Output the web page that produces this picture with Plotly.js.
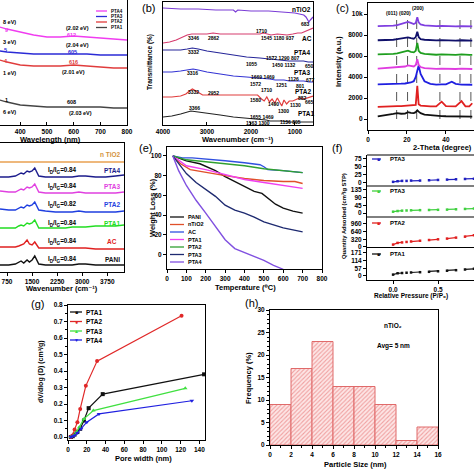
<!DOCTYPE html>
<html><head><meta charset="utf-8">
<script src="https://cdn.plot.ly/plotly-3.0.1.min.js"></script>
<style>html,body{margin:0;padding:0;background:#fff;}#chart{width:474px;height:474px;}</style>
</head><body><div id="chart"></div>
<script>
// ---------- (a) UV-vis ----------
const uvWavelength = [324,350,400,450,500,550,600,650,700,750,800];
const uvPTA4 = [98,96,93,90,88,88,89,88,87,86,85];
const uvPTA3 = [74,73,72,71,71,71,71,71,70,70,70];
const uvPTA2 = [65,63,60,59,59,59,60,59,58,57,57];
const uvPTA1 = [25,23,20,19,18,18,18,18,18,17,17];
const uvNames = ['PTA4','PTA3','PTA2','PTA1'];

// ---------- (b) FTIR ----------
const ftirTiO2Wn = [4000,3600,3200,2800,2400,2350,2300,2000,1600,1200,1000,900,800,750,720,683,650,620,590];
const ftirTiO2 = [117,116,116,115,115,113,115,114,114,113,112,111,110,108,105,103,105,107,108];
const ftirACWn = [4000,3850,3700,3550,3450,3346,3200,3000,2862,2700,2400,2000,1800,1710,1600,1545,1400,1180,1050,937,850,750,650,590];
const ftirAC = [82,83,85,88,90,91,91,91,92,91,91,91,91,92,91,90,91,90,91,92,92,94,96,97];
const ftirPTA4Wn = [4000,3800,3600,3450,3332,3200,3000,2700,2400,2100,1800,1572,1450,1290,1132,1000,807,700,590];
const ftirPTA4 = [75,75,75,76,77,76,74,72,70,68,67,66,65,65,64,64,64,63,63];
const ftirPTA3Wn = [4000,3800,3600,3450,3316,3200,3000,2700,2400,2100,1800,1572,1450,1251,1126,1000,801,677,590];
const ftirPTA3 = [53,53,54,55,56,55,53,51,49,48,47,46,45,45,44,44,44,43,43];
const ftirPTA2Wn = [4000,3800,3600,3480,3400,3332,3250,3100,2952,2700,2400,2100,1850,1760,1700,1640,1580,1520,1460,1400,1340,1300,1250,1190,1130,1050,950,882,800,665,590];
const ftirPTA2 = [28,28,29,31,34,36,34,30,30,30,30,30,30,26,24,28,23,26,22,27,23,19,25,21,24,24,26,27,26,28,29];
const ftirPTA1Wn = [4000,3800,3600,3450,3366,3200,3000,2700,2400,2100,1800,1655,1563,1469,1300,1136,1000,805,700,590];
const ftirPTA1 = [8,9,11,13,14,13,12,10,8,7,6,5,4,4,4,3,3,3,3,3];

// ---------- (c) XRD ----------
const xrdTheta = [5,7,9,11,13,15,17,19,20.5,22,23.5,24.5,25.3,26,27,29,32,35,37.8,40,43,45,48,50,52,53.5];
const xrdPANI = [250,300,330,380,480,560,500,520,650,580,560,650,820,700,550,420,350,300,280,260,250,240,230,230,220,220];
const xrdRed = [1150,1180,1200,1200,1220,1230,1220,1250,1270,1260,1270,1350,3150,1400,1280,1230,1200,1200,1650,1220,1200,1200,1700,1200,1200,1500];
const xrdBlue = [3300,3300,3310,3320,3330,3350,3360,3380,3420,3480,3600,4000,4600,5100,4300,3600,3350,3280,3300,3300,3550,3350,3280,3270,3270,3260];
const xrdMagenta = [4800,4820,4830,4850,4870,4900,4950,5000,5100,5050,5000,5150,5700,5150,4950,4850,4800,4780,4800,4780,4770,4760,4800,4760,4760,4760];
const xrdGreen = [6150,6150,6160,6170,6200,6250,6350,6450,6500,6400,6350,6500,7250,6500,6300,6200,6150,6120,6150,6120,6110,6100,6150,6100,6100,6100];
const xrdNavy = [7500,7500,7510,7520,7550,7600,7650,7700,7780,7700,7650,7800,8300,7800,7600,7550,7500,7480,7520,7480,7470,7460,7500,7460,7460,7460];
const xrdPurple = [8850,8850,8860,8880,8900,8950,9050,9150,9250,9150,9050,9150,9700,9200,9000,8920,8870,8840,8870,8840,8830,8820,8850,8820,8820,8820];
const xrdRefPeaks = [14.7,20.3,25.0,36.9,47.2,52.8];
const xrdPlanes = ['(011)','(020)','(200)'];

// ---------- (d) Raman ----------
const ramanShift = [540,800,1000,1100,1170,1250,1350,1420,1500,1580,1620,1700,1900,2200,2500,2700,2900,3100,3400,3700,4000,4250];
const ramanPANI = [7,7,8,10,11,9,12,10,12,16,13,8,7,7,7,7,8,8,7,7,7,7];
const ramanAC = [25,25,25,26,27,28,32,28,27,30,28,24,24,24,24,24,24,24,23,23,23,23];
const ramanPTA1 = [44,44,44,46,47,46,49,48,49,52,49,44,44,44,44,45,45,45,46,46,46,47];
const ramanPTA2 = [63,62,62,64,65,64,67,66,67,70,67,62,61,60,60,60,61,60,60,60,60,61];
const ramanPTA3 = [81,80,80,82,83,82,85,84,85,88,85,80,79,79,79,79,80,79,79,79,79,80];
const ramanPTA4 = [95,95,96,98,99,98,101,100,101,104,101,96,95,95,95,95,96,96,95,95,96,97];
const ramanTiO2Shift = [540,4250];
const ramanTiO2 = [110,110];
const ramanRatios = ['0.84','0.84','0.82','0.84','0.84','0.84']; // PTA4, PTA3, PTA2, PTA1, AC, PANI

// ---------- (e) TGA ----------
const tgaPANIT = [30,100,170,250,300,350,400,450,490,520,560,600,650,700];
const tgaPANI = [100,95,92,85,79,74,69,64,62,57,51,47,44,42];
const tgaTiO2T = [30,70,120,200,300,400,500,600,660,700];
const tgaTiO2 = [100,92,86,83,80,77,75,74,74,72];
const tgaACT = [30,80,130,200,300,400,480,500,520,600,700];
const tgaAC = [100,98,98,97,95,93,91,89,86,85,83];
const tgaPTA1T = [30,100,200,300,400,500,600,650,700];
const tgaPTA1 = [100,90,86,81,76,73,70,69,67];
const tgaPTA2T = [30,100,200,300,400,500,600,700];
const tgaPTA2 = [100,96,94,92,90,87,85,83];
const tgaPTA3T = [30,60,100,150,200,250,300,350,400,450,500,550,600,650,700];
const tgaPTA3 = [100,92,82,73,66,59,50,45,42,38,33,30,27,25,23];
const tgaPTA4T = [30,60,100,150,200,250,300,350,400,450,500,550,600];
const tgaPTA4 = [100,85,70,55,42,28,15,6,2,-2,-6,-11,-15];
const tgaNames = ['PANI','nTiO2','AC','PTA1','PTA2','PTA3','PTA4'];

// ---------- (f) N2 isotherms ----------
const isoP = [0.0,0.05,0.1,0.15,0.2,0.3,0.4,0.5,0.6,0.7,0.8,0.9];
const isoTop = [3,5,6,6,7,7,8,9,10,11,12,13];
const isoGreen = [8,12,14,15,16,17,18,19,20,22,24,26];
const isoPTA2 = [100,170,190,210,230,260,290,320,350,390,430,490];
const isoPTA1 = [10,20,22,24,26,28,31,35,39,43,48,53];
const isoNames = ['PTA3','PTA3','PTA2','PTA1'];

// ---------- (g) pore size distribution ----------
const poreWPTA1 = [3,5,7,10,13,17,22,37,145];
const poreVPTA1 = [0.0,0.005,0.015,0.03,0.05,0.1,0.175,0.26,0.38];
const poreWPTA2 = [3,5,7,10,13,19,31,121];
const poreVPTA2 = [0.0,0.01,0.045,0.09,0.17,0.31,0.46,0.735];
const poreWPTA3 = [3,6,9,12,17,27,125];
const poreVPTA3 = [0.0,0.01,0.03,0.06,0.11,0.16,0.295];
const poreWPTA4 = [3,5,7,10,14,20,33,132];
const poreVPTA4 = [0.0,0.005,0.01,0.025,0.05,0.09,0.14,0.22];
const poreNames = ['PTA1','PTA2','PTA3','PTA4'];

// ---------- (h) particle size histogram ----------
const sizeBinStart = [0,2,4,6,8,10,12,14];
const sizeFreq = [9,17,23,13,13,9,1,4];

// ================= drawing =================
const F = 'Arial, "Liberation Sans", "DejaVu Sans", sans-serif';
const W = 474;
const px = v => v / W, py = v => 1 - v / W;
const traces = [], ann = [], shapes = [];

function line(x, y, xa, ya, color, width, extra) {
  traces.push(Object.assign({type:'scatter', mode:'lines', x, y, xaxis:xa, yaxis:ya,
    line:{color, width: width || 1.2}, showlegend:false, hoverinfo:'skip', cliponaxis:true}, extra || {}));
}
function T(text, x, y, size, color, o) {
  o = o || {};
  ann.push({text, x: px(x), y: py(y), xref:'paper', yref:'paper', showarrow:false,
    font:{family:F, size:size, color:color || '#000', weight: o.normal ? 'normal' : 'bold'},
    xanchor:o.xa || 'center', yanchor:'middle', textangle:o.angle || 0});
}
function legLine(x0, x1, y, color, dash) {
  shapes.push({type:'line', xref:'paper', yref:'paper', x0:px(x0), x1:px(x1), y0:py(y), y1:py(y),
    line:{color, width:1.3, dash: dash || 'solid'}});
}
function hline(x0, x1, y) {
  shapes.push({type:'line', xref:'paper', yref:'paper', x0:px(x0), x1:px(x1), y0:py(y), y1:py(y),
    line:{color:'#000', width:1}});
}

// (a)
const uvCols = ['#f03cf0','#2b2bd6','#e03c3c','#444444'];
[uvPTA4, uvPTA3, uvPTA2, uvPTA1].forEach((s, i) => line(uvWavelength, s, 'x', 'y', uvCols[i], 1.3));
uvNames.forEach((n, i) => { const yy = [11,16.5,22,27.5][i]; legLine(96, 107, yy, uvCols[i]); T(n, 108.5, yy, 4.5, '#000', {xa:'left'}); });
T('(2.02 eV)', 77, 27.5, 5.5); T('612', 71, 35, 5.5, uvCols[0]);
T('(2.04 eV)', 77, 45, 5.5); T('605', 72, 52, 5.5, uvCols[1]);
T('616', 73, 62, 5.5, uvCols[2]); T('(2.01 eV)', 73, 72, 5.5);
T('608', 71, 102, 5.5); T('(2.03 eV)', 80, 113, 5.5);
T('8 eV)', 1, 22, 5.5, '#000', {xa:'left'}); T('9', 3, 30, 5.5, uvCols[0], {xa:'left'});
T('3 eV)', 1, 42.5, 5.5, '#000', {xa:'left'}); T('5', 2, 50, 5.5, uvCols[1], {xa:'left'});
T('4', 2, 61, 5.5, uvCols[2], {xa:'left'}); T('1 eV)', 1, 73, 5.5, '#000', {xa:'left'});
T('1', 3, 100, 5.5, '#000', {xa:'left'}); T('6 eV)', 1, 112, 5.5, '#000', {xa:'left'});
T('Wavelength (nm)', 50, 139, 7.5);

// (b)
const ftCols = ['#7a3cd6','#d63c6e','#262699','#3434d4','#e03c3c','#222222'];
line(ftirTiO2Wn, ftirTiO2, 'x2', 'y2', ftCols[0]);
line(ftirACWn, ftirAC, 'x2', 'y2', ftCols[1]);
line(ftirPTA4Wn, ftirPTA4, 'x2', 'y2', ftCols[2]);
line(ftirPTA3Wn, ftirPTA3, 'x2', 'y2', ftCols[3]);
line(ftirPTA2Wn, ftirPTA2, 'x2', 'y2', ftCols[4]);
line(ftirPTA1Wn, ftirPTA1, 'x2', 'y2', ftCols[5]);
T('nTiO2', 301, 10, 6.5); T('683', 305, 24, 5);
T('AC', 307, 38, 6.5); T('PTA4', 302, 52, 6.5); T('PTA3', 302, 72, 6.5);
T('PTA2', 303, 91, 6.5); T('PTA1', 306, 113.5, 6.5);
T('3346', 193, 38, 5); T('2862', 213, 38, 5); T('1710', 261, 31, 5);
T('1545 1180 937', 277, 38, 5);
T('3332', 193, 52, 5); T('1572 1290 807', 283, 57.5, 5); T('1055', 251, 64, 5);
T('1450 1132', 284, 64.5, 5); T('650', 309, 66, 5);
T('3316', 192, 73, 5); T('1669 1469', 263, 77, 5); T('1126', 293, 79, 5); T('677', 310, 80.5, 5);
T('1572', 256, 84, 5); T('1251', 281, 85, 5); T('801', 300, 86.5, 5);
T('3332', 193, 92, 5); T('2952', 213, 93, 5); T('1710', 266, 90, 5);
T('1580', 256, 100, 5); T('1490', 273, 104, 5); T('1300', 283, 111, 5);
T('1130', 295, 105, 5); T('882', 302, 97.5, 5); T('665', 309, 102.5, 5);
T('3366', 194, 108, 5); T('1655 1469', 262, 116.5, 5); T('1136 805', 290, 121.5, 5); T('1563 1300', 258, 123, 5);
T('Transmittance (%)', 150, 62, 6.5, '#000', {angle:-90});
T('Wavenumber (cm⁻¹)', 238, 139.5, 7.5);
T('(b)', 148, 8, 11, '#000', {normal:true});

// (c)
const xrdCols = ['#111111','#e02020','#1f1fe0','#e03ce0','#1e9e1e','#10106a','#7f3fe0'];
[xrdPANI, xrdRed, xrdBlue, xrdMagenta, xrdGreen, xrdNavy, xrdPurple].forEach((s, i) => line(xrdTheta, s, 'x3', 'y3', xrdCols[i], 1.8));
xrdRefPeaks.forEach(p => shapes.push({type:'line', xref:'x3', yref:'y3', x0:p, x1:p, y0:0, y1:10000,
  line:{color:'#555', width:1, dash:'dash'}, layer:'below'}));
const planeAt = [12.3, 19.1, 25.5];
xrdPlanes.forEach((t, i) => ann.push({text:t, x:planeAt[i], y:[10050,10050,10600][i], xref:'x3', yref:'y3',
  showarrow:false, font:{family:F, size:5, color:'#000', weight:'bold'}}));
T('Intensity (a.u.)', 339, 62, 7.5, '#000', {angle:-90});
T('2-Theta (degree)', 442, 147, 7.5);
T('(c)', 342, 8, 11, '#000', {normal:true});

// (d)
const rmCols = ['#e8a050','#1c1c8c','#e040e0','#1f3fe0','#22dd22','#e02020','#111111'];
line(ramanTiO2Shift, ramanTiO2, 'x4', 'y4', rmCols[0], 1.3);
[ramanPTA4, ramanPTA3, ramanPTA2, ramanPTA1, ramanAC, ramanPANI].forEach((s, i) => line(ramanShift, s, 'x4', 'y4', rmCols[i + 1], 1.4));
T('n TiO2', 110, 154, 6.5, '#d4923c');
const rmNames = ['PTA4','PTA3','PTA2','PTA1','AC','PANI'];
const rmLabY = [170, 187, 205, 223, 241, 259];
const subSpan = s => "<span style='font-size:4.6px;baseline-shift:-2px'>" + s + "</span>";
rmNames.forEach((n, i) => {
  T(n, 112, rmLabY[i], 6.5, rmCols[i + 1]);
  T('I' + subSpan('D') + '/I' + subSpan('G') + '=' + ramanRatios[i], 63, rmLabY[i], 6.3);
});
T('Wavenumber (cm⁻¹)', 62, 288, 7.5);

// (e)
const tgCols = ['#111111','#e0502a','#3050e0','#f040f0','#30a030','#1e2a70','#8050e0'];
[[tgaPANIT, tgaPANI],[tgaTiO2T, tgaTiO2],[tgaACT, tgaAC],[tgaPTA1T, tgaPTA1],[tgaPTA2T, tgaPTA2],[tgaPTA3T, tgaPTA3],[tgaPTA4T, tgaPTA4]]
  .forEach((d, i) => line(d[0], d[1], 'x5', 'y5', tgCols[i], 1.4));
tgaNames.forEach((n, i) => { const yy = 217 + i * 7.5; legLine(170, 184, yy, tgCols[i]); T(n, 186, yy, 5.5, '#000', {xa:'left'}); });
T('Weight Loss (%)', 152, 208, 7.5, '#000', {angle:-90});
T('Temperature (⁰C)', 245, 287, 7.5);
T('(e)', 145, 148, 11, '#000', {normal:true});

// (f)
const isoCols = ['#2020c0','#40d040','#e02020','#111111'];
[isoTop, isoGreen, isoPTA2, isoPTA1].forEach((s, i) => line(isoP, s, 'x6', 'y' + (6 + i), isoCols[i], 1.2,
  {mode:'lines+markers', line:{color:isoCols[i], width:1.2, dash:'dash'}, marker:{symbol:'square', size:2.5, color:isoCols[i]}}));
const isoLabY = [159, 191, 223, 254];
isoNames.forEach((n, i) => {
  legLine(372, 384, isoLabY[i], isoCols[i], 'dash');
  T('■', 378, isoLabY[i], 5, isoCols[i]);
  T(n, 388, isoLabY[i], 6, '#000', {xa:'left'});
});
hline(367, 474, 155); hline(367, 474, 186); hline(367, 474, 217);
T('Quantity Adsorbed (cm³/g STP)', 344, 216, 5.8, '#000', {angle:-90});
T('Relative Pressure (P/P₀)', 372, 296, 6.5, '#000', {xa:'left'});
T('(f)', 337, 148, 11, '#000', {normal:true});

// (g)
const pCols = ['#111111','#e02828','#40e040','#2020e0'];
const pSym = ['square','circle','triangle-up','triangle-down'];
const pGlyph = ['■','●','▲','▼'];
[[poreWPTA1, poreVPTA1],[poreWPTA2, poreVPTA2],[poreWPTA3, poreVPTA3],[poreWPTA4, poreVPTA4]].forEach((d, i) =>
  line(d[0], d[1], 'x7', 'y10', pCols[i], 1.2, {mode:'lines+markers', marker:{symbol:pSym[i], size:4, color:pCols[i]}}));
poreNames.forEach((n, i) => { const yy = [312, 321.5, 331, 340][i];
  legLine(70, 82, yy, pCols[i]); T(pGlyph[i], 76, yy, 5, pCols[i]); T(n, 84, yy, 6.5, '#000', {xa:'left'}); });
T('dV/dlog (D) (cm³/g)', 41, 372, 7, '#000', {angle:-90});
T('Pore width (nm)', 143, 458, 7.5);
T('(g)', 37, 304, 11, '#000', {normal:true});

// (h)
traces.push({type:'bar', x:sizeBinStart, y:sizeFreq, width:2, offset:0, xaxis:'x8', yaxis:'y11', showlegend:false, hoverinfo:'skip',
  marker:{color:'#f7c4c4', line:{color:'#e06a6a', width:1},
          pattern:{shape:'/', fgcolor:'#f0a0a0', bgcolor:'#fde6e6', size:3, solidity:0.35}}});
T('nTiO₂', 393, 325, 6.5);
T('Avg= 5 nm', 393, 346, 6.5);
T('Frequency (%)', 248, 378, 7.5, '#000', {angle:-90});
T('Particle Size (nm)', 355, 464, 7.5);
T('(h)', 251, 303, 11, '#000', {normal:true});

// axes
const tf = {family:F, size:6.5, color:'#000', weight:'bold'};
function ax(domain, range, extra) {
  return Object.assign({domain, range, showline:true, mirror:true, linecolor:'#000', linewidth:1,
    ticks:'outside', ticklen:3, tickwidth:1, tickcolor:'#000', showgrid:false, zeroline:false,
    tickfont:tf, automargin:false, fixedrange:true, ticklabelstandoff:0}, extra || {});
}
const noLab = {showticklabels:false, ticks:''};
const layout = {
  width:474, height:474, margin:{l:0, r:0, t:0, b:0}, paper_bgcolor:'#fff', plot_bgcolor:'#fff',
  showlegend:false, font:{family:F},
  xaxis: ax([0, px(127)], [324, 800], {anchor:'y', tickvals:[400,500,600,700,800], ticks:'inside'}),
  yaxis: ax([py(125), 1], [0, 125], Object.assign({anchor:'x'}, noLab)),
  xaxis2: ax([px(163), px(313)], [4000, 590], {anchor:'y2', tickvals:[4000,3000,2000,1000], ticks:'inside'}),
  yaxis2: ax([py(125), py(2)], [0, 123], Object.assign({anchor:'x2'}, noLab)),
  xaxis3: ax([px(368), 1], [0, 54.4], {anchor:'y3', tickvals:[0,20,40]}),
  yaxis3: ax([py(130), py(3)], [-1048, 11048], {anchor:'x3', tickvals:[0,2000,4000,6000,8000,10000]}),
  xaxis4: ax([0, px(124)], [540, 4250], {anchor:'y4', tickvals:[750,1500,2250,3000,3750]}),
  yaxis4: ax([py(272), py(143)], [0, 129], Object.assign({anchor:'x4'}, noLab)),
  xaxis5: ax([px(167), px(322)], [0, 800], {anchor:'y5', dtick:100, tick0:0}),
  yaxis5: ax([py(269), py(147)], [-14.7, 109], {anchor:'x5', tickvals:[0,20,40,60,80,100]}),
  xaxis6: ax([px(367), 1], [-0.29, 0.9], {anchor:'y9', tickvals:[0,0.5], ticktext:['0.0','0.5']}),
  yaxis6: ax([py(186), py(155)], [-10, 87], {anchor:'x6', tickvals:[0,25,50,75]}),
  yaxis7: ax([py(217), py(186)], [-23, 158], {anchor:'x6', tickvals:[0,45,90,135]}),
  yaxis8: ax([py(248), py(217)], [-42, 1250], {anchor:'x6', tickvals:[0,320,640,960]}),
  yaxis9: ax([py(280), py(248)], [-30, 208], {anchor:'x6', tickvals:[0,57,114,171]}),
  xaxis7: ax([px(68), px(205)], [0, 146], {anchor:'y10', dtick:20, tick0:0}),
  yaxis10: ax([py(440), py(305)], [-0.018, 0.8], {anchor:'x7', dtick:0.1, tick0:0, tickformat:'.1f',
    minor:{ticks:'outside', ticklen:2, dtick:0.05, tickcolor:'#000'}}),
  xaxis8: ax([px(270), px(438)], [0, 16], {anchor:'y11', dtick:2, tick0:0,
    minor:{ticks:'outside', ticklen:2, dtick:1, tickcolor:'#000'}}),
  yaxis11: ax([py(445), py(310)], [0, 30], {anchor:'x8', dtick:5, tick0:0,
    minor:{ticks:'outside', ticklen:2, dtick:1, tickcolor:'#000'}}),
  annotations: ann, shapes: shapes
};
Plotly.newPlot('chart', traces, layout, {staticPlot:true, displayModeBar:false});
</script></body></html>
